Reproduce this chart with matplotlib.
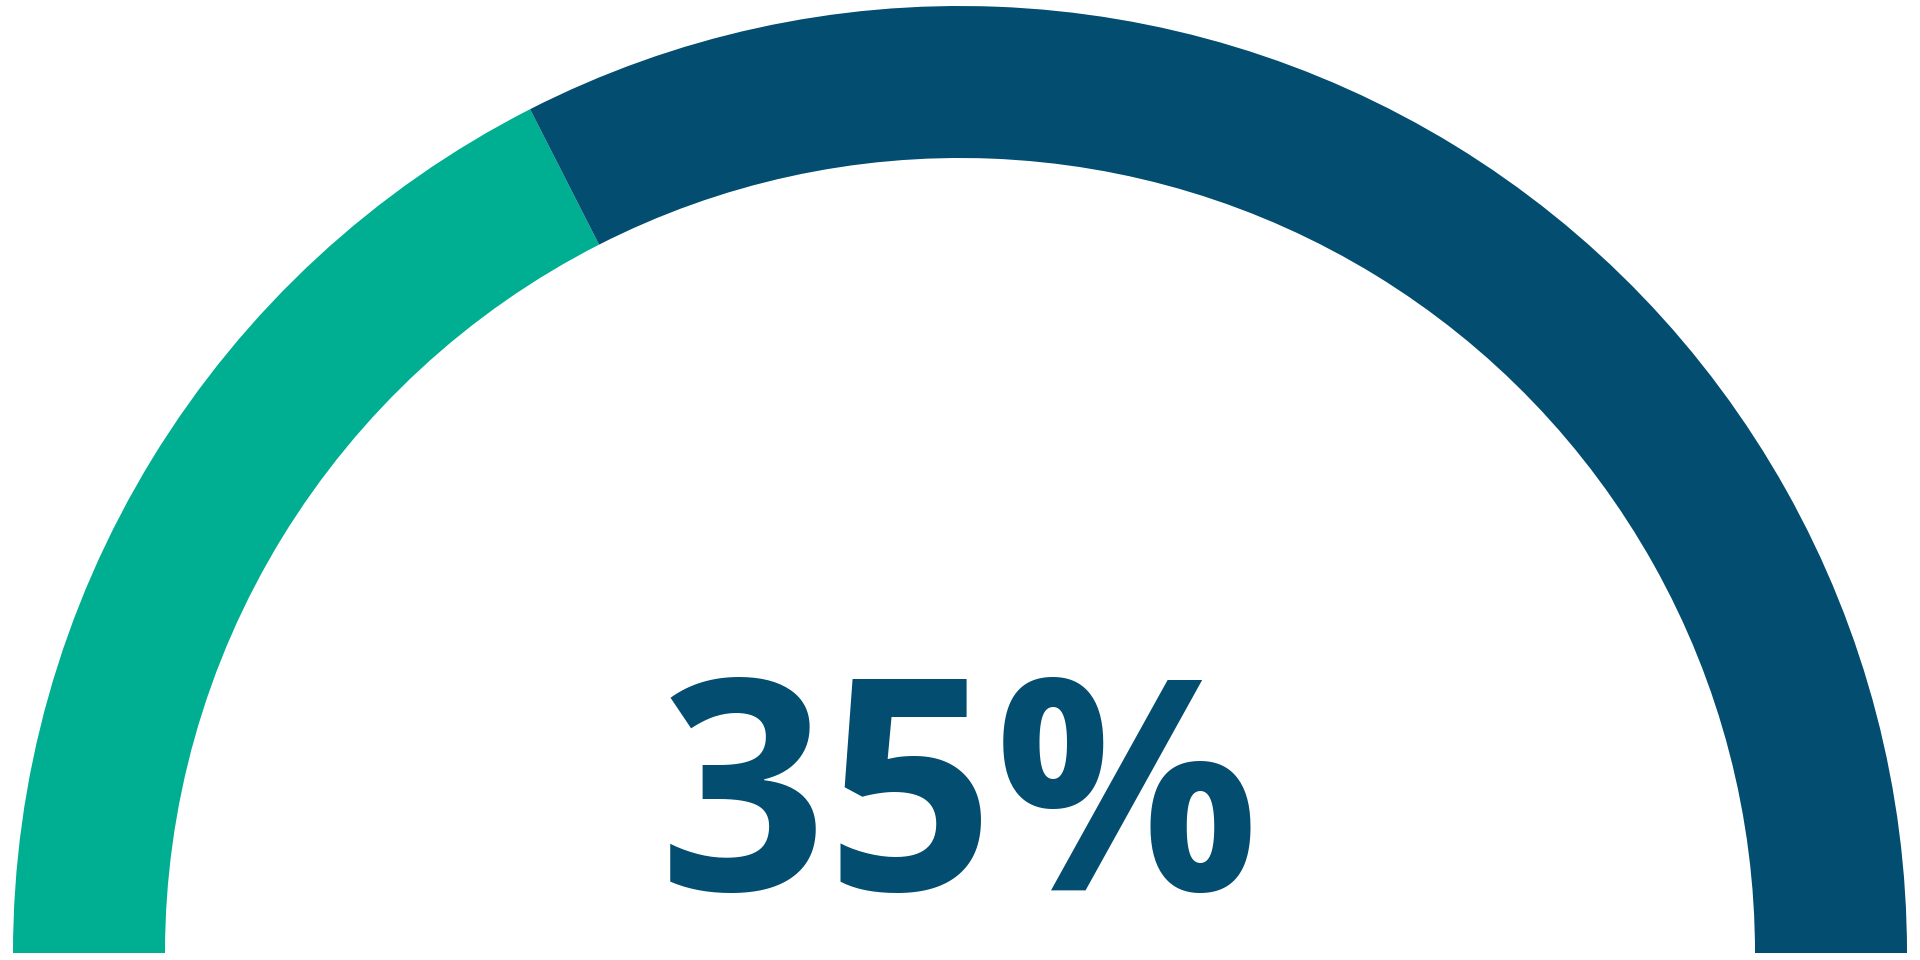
import matplotlib
matplotlib.use("Agg")
import matplotlib.pyplot as plt
from matplotlib.patches import Wedge

# gauge data
value = 35          # percent shown
total = 100
label = "35%"
colors = ["#00ae92", "#024d70"]   # filled part, remaining part

W, H = 1920, 960
fig = plt.figure(figsize=(W / 100, H / 100), dpi=100)
ax = fig.add_axes([0, 0, 1, 1])
ax.set_xlim(0, W)
ax.set_ylim(0, H)
ax.axis("off")

cx, cy = 960, 7
r_out, ring = 947, 152

split = 180 - 180 * value / total
ax.add_patch(Wedge((cx, cy), r_out, split, 180, width=ring, color=colors[0], lw=0))
ax.add_patch(Wedge((cx, cy), r_out, 0, split, width=ring, color=colors[1], lw=0))

ax.text(cx, 70, label, ha="center", va="baseline", fontsize=212,
        fontweight="bold", family=["Open Sans", "DejaVu Sans"], color=colors[1])

fig.savefig("out.png", dpi=100, facecolor="white")
